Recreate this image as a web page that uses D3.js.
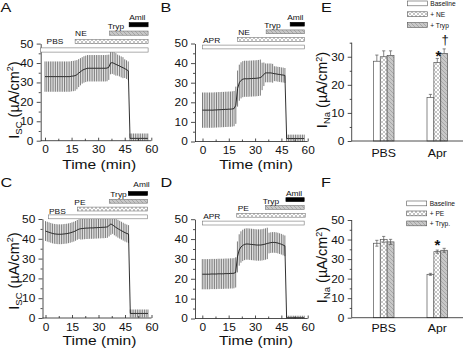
<!DOCTYPE html>
<html><head><meta charset="utf-8">
<script src="https://cdn.jsdelivr.net/npm/d3@7"></script>
<style>
body{margin:0;background:#fff}
svg{display:block}
text{font-family:"Liberation Sans",Arial,Helvetica,sans-serif;fill:#111}
</style>
</head><body>
<svg id="c" width="464" height="350"></svg>
<script>
// ---------------- DATA ----------------
const minutes = [0,1,2,3,4,5,6,7,8,9,10,11,12,13,14,15,16,17,18,19,20,21,22,23,24,25,26,27,28,29,30,31,32,33,34,35,36,37,38,39,40,41,42,43,44,45,46,47,48,49,50,51,52,53,54,55,56,57,58];

const aMean = [33,33,33,33,33,33,33,33,33,33,33,33,33,33,33,33.2,33.3,33.5,
  34,34.8,35.5,36.2,36.7,37,
  37.3,37.3,37.3,37.3,37.3,37.3,37.3,37.3,37.3,37.3,37.3,37.4,
  37.8,40,40.2,39.8,39.3,38.9,38.5,38,37.6,37.1,36.6,36,
  1.2,1.2,1.2,1.2,1.2,1.2,1.2,1.2,1.2,1.2,1.2];
const aSD = [7.8,7.8,7.8,7.8,7.8,7.8,7.8,7.8,7.8,7.8,7.8,7.8,7.8,7.8,7.8,7.8,7.8,7.8,
  7.5,7.2,7,6.8,6.8,6.8,
  6.8,6.8,6.8,6.8,6.8,6.8,6.8,6.8,6.8,6.8,6.8,6.8,
  6.5,5.8,5.8,5.8,5.8,5.4,5.4,5.4,5.4,4.8,4.8,4.8,
  2.5,2.5,2.5,2.5,2.5,2.5,2.5,2.5,2.5,2.5,2.5];

const bMean = [16,16,16,16,16,16,16,16.1,16.1,16.2,16.2,16.3,16.3,16.4,16.4,16.5,16.5,16.6,
  16.8,18.5,27,30,31.2,31.8,
  32,32,32,32.1,32.1,32.2,32.2,32.3,32.4,32.6,33.2,34.3,
  35,35,35,35,34.8,34.6,34.5,34.3,34.2,34,33.9,33.7,
  1.5,1.5,1.5,1.5,1.5,1.5,1.5,1.5,1.5,1.5,1.5];
const bSD = [9,9,9,9,9,9,9,9,9,9,9,9,9,9,9,9,9,9,
  9,9.5,9.2,9.2,9.2,9.2,
  9.2,9.2,9.2,9.2,9.2,9.2,9.2,9.2,9.2,9.2,7,6,
  4.8,4.8,4.8,4.8,4.8,3.8,3.8,3.8,3.8,3.8,3.8,3.8,
  2,2,2,2,2,2,2,2,2,2,2];

const cMean = [43.9,43.6,43.3,43,42.7,42.5,42.4,42.3,42.3,42.3,42.4,42.5,42.6,42.8,43,43.3,43.6,44,
  44.5,44.9,45.1,45.2,45.3,45.4,
  45.4,45.5,45.5,45.5,45.6,45.6,45.7,45.7,45.8,45.8,45.9,46,
  46.7,47.5,47,46.3,45.7,45.1,44.6,44.1,43.6,43.1,42.7,42.4,
  2.3,2.3,2.3,2.3,2.3,2.3,2.3,2.3,2.3,2.3,2.3];
const cSD = [5,5,5,5,5,5,5,5,5,5,5,5,5,5,5,5,5,5,
  5,5,5.5,5.5,5.5,5.5,
  5.5,5.5,5.5,5.5,5.5,5.5,5.5,5.5,5.5,5.5,5.5,5.5,
  5.5,5.5,4.5,4.5,4.5,4.5,4.5,4.5,4.5,4.5,4.5,4.5,
  2,2,2,2,2,2,2,2,2,2,2];

const dMean = [22.3,22.3,22.3,22.3,22.3,22.4,22.4,22.4,22.4,22.5,22.5,22.5,22.5,22.6,22.6,22.6,22.7,22.7,
  22.8,23.2,31,34.5,36,36.8,
  37.3,37.5,37.5,37.4,37.3,37.2,37.1,37,37,37,37.1,37.3,
  37.5,37.8,38,38.2,38.3,38.3,38.2,38,37.7,37.4,37,36.6,
  0.4,0.4,0.4,0.4,0.4,0.4,0.4,0.4,0.4,0.4,0.4];
const dSD = [7.6,7.6,7.6,7.6,7.6,7.6,7.6,7.6,7.6,7.6,7.6,7.6,7.6,7.6,7.6,7.6,7.6,7.6,
  7.6,7.6,7.8,7.9,7.9,7.9,
  7.9,7.9,7.9,7.9,7.9,7.9,7.9,7.9,7.9,7.9,7.9,7.9,
  7.9,7.9,5.2,5.2,5.2,5.2,5.2,5.2,5.2,5.2,5.2,5.2,
  1,1,1,1,1,1,1,1,1,1,1];

// treatment periods (minutes)
const aTreat = [{name:"PBS",start:-2.5,end:58.2},{name:"NE",start:17,end:58.2},{name:"Tryp",start:36.5,end:58.2},{name:"Amil",start:47.5,end:58.2}];
const bTreat = [{name:"APR",start:0,end:58.1},{name:"NE",start:20,end:58.1},{name:"Tryp",start:36.3,end:58.1},{name:"Amil",start:50,end:58.1}];
const cTreat = [{name:"PBS",start:1.6,end:57.8},{name:"PE",start:18,end:57.8},{name:"Tryp",start:36.1,end:57.8},{name:"Amil",start:46.9,end:57.8}];
const dTreat = [{name:"APR",start:0.2,end:58},{name:"PE",start:19.6,end:58.6},{name:"Tryp",start:35.9,end:58},{name:"Amil",start:47.6,end:58}];

const lineYTicks = [0,10,20,30,40,50];
const lineYMinor = [5,15,25,35,45];
const lineXTicks = [0,15,30,45,60];
const lineXMinor = [7.5,22.5,37.5,52.5];

const categories = ["PBS","Apr"];
const eBaseline = [28.4,15.5], eBaselineErr = [2.2,1.1];
const eNE = [30.0,27.9],       eNEErr = [2.1,1.5];
const eTryp = [30.5,31.2],     eTrypErr = [1.6,1.6];
const fBaseline = [38.1,22.2], fBaselineErr = [1.5,0.5];
const fPE = [40.1,33.8],       fPEErr = [1.5,0.8];
const fTryp = [38.8,34.5],     fTrypErr = [1.3,1.0];
const eYTicks = [0,10,20,30], eYMinor = [5,15,25,35];
const fYTicks = [0,10,20,30,40,50], fYMinor = [5,15,25,35,45];

// ---------------- DRAWING ----------------
const svg = d3.select("#c");
svg.append("rect").attr("width",464).attr("height",350).attr("fill","#fff");
const defs = svg.append("defs");
const xh = defs.append("pattern").attr("id","xh").attr("patternUnits","userSpaceOnUse").attr("width",4).attr("height",4);
xh.append("rect").attr("width",4).attr("height",4).attr("fill","#fff");
xh.append("path").attr("d","M0,0L4,4M4,0L0,4").attr("stroke","#a0a0a0").attr("stroke-width",0.6);
const dh = defs.append("pattern").attr("id","dh").attr("patternUnits","userSpaceOnUse").attr("width",4).attr("height",4);
dh.append("rect").attr("width",4).attr("height",4).attr("fill","#c8c8c8");
dh.append("path").attr("d","M-1,-1L5,5M-1,3L1,5M3,-1L5,1").attr("stroke","#8e8e8e").attr("stroke-width",0.6);

const kindFill = {open:"#fff", cross:"url(#xh)", hatch:"url(#dh)", solid:"#000"};
const treatKind = {PBS:"open", APR:"open", NE:"cross", PE:"cross", Tryp:"hatch", Amil:"solid"};

function txt(parent, x, y, s, size, opts={}) {
  const t = parent.append("text")
    .attr("transform", `translate(${x},${y}) scale(${opts.sx||1},1)`)
    .attr("font-size", size)
    .attr("text-anchor", opts.anchor||"start")
    .text(s);
  if (opts.bold) t.attr("font-weight","bold");
  return t;
}

function styleAxis(sel, size, sx) {
  sel.select(".domain").attr("stroke","#222").attr("stroke-width",0.8);
  sel.selectAll(".tick line").attr("stroke","#222").attr("stroke-width",0.8);
  sel.selectAll(".tick text").attr("font-size",size).attr("fill","#111")
     .attr("font-family",'"Liberation Sans",Arial,sans-serif')
     .attr("transform",`scale(${sx},1)`);
  sel.attr("font-size",null).attr("font-family",null);
}

function yLabel(parent, x, y, sub) {
  const t = parent.append("text").attr("transform",`translate(${x},${y}) rotate(-90)`)
    .attr("text-anchor","middle").attr("font-size",14.5);
  t.append("tspan").text("I");
  t.append("tspan").attr("font-size",9.5).attr("dy",3).text(sub);
  t.append("tspan").attr("dy",-3).text(" (\u00b5A/cm");
  t.append("tspan").attr("font-size",9).attr("dy",-5.5).text("2");
  t.append("tspan").attr("dy",5.5).text(")");
}

function drawLinePanel(p) {
  const g = svg.append("g");
  const x = d3.scaleLinear().domain([0,60]).range(p.xRange);
  const y = d3.scaleLinear().domain([0,50]).range(p.yRange);
  const cid = "clip" + p.id;
  defs.append("clipPath").attr("id",cid).append("rect")
    .attr("x",p.axisX).attr("y",y(50)).attr("width",x(60)-p.axisX+2).attr("height",y(0)-y(50));
  const plot = g.append("g").attr("clip-path",`url(#${cid})`);
  plot.selectAll("line").data(minutes).join("line")
    .attr("x1",d=>x(d)).attr("x2",d=>x(d))
    .attr("y1",(d,i)=>y(p.mean[i]-p.sd[i])).attr("y2",(d,i)=>y(p.mean[i]+p.sd[i]))
    .attr("stroke","#444").attr("stroke-width",0.7);
  plot.append("path")
    .attr("d", d3.line().x(d=>x(d)).y((d,i)=>y(p.mean[i]))(minutes))
    .attr("fill","none").attr("stroke","#1a1a1a").attr("stroke-width",0.9);

  // y axis
  const ya = g.append("g").attr("transform",`translate(${p.axisX},0)`)
    .call(d3.axisLeft(y).tickValues(lineYTicks).tickSize(4).tickSizeOuter(0).tickPadding(2.6));
  styleAxis(ya, 10.8, 1.1);
  const ym = g.append("g").attr("transform",`translate(${p.axisX},0)`)
    .call(d3.axisLeft(y).tickValues(lineYMinor).tickSize(2).tickFormat(""));
  ym.select(".domain").remove();
  ym.selectAll(".tick line").attr("stroke","#222").attr("stroke-width",0.8);
  // x axis
  const xa = g.append("g").attr("transform",`translate(0,${y(0)})`)
    .call(d3.axisBottom(x).tickValues(lineXTicks).tickSize(-3).tickSizeOuter(0).tickPadding(5));
  xa.select(".domain").remove();
  styleAxis(xa, 10.8, 1.1);
  const xm = g.append("g").attr("transform",`translate(0,${y(0)})`)
    .call(d3.axisBottom(x).tickValues(lineXMinor).tickSize(-2).tickFormat(""));
  xm.select(".domain").remove();
  xm.selectAll(".tick line").attr("stroke","#222").attr("stroke-width",0.8);
  g.append("line").attr("x1",p.axisX).attr("x2",x(60)).attr("y1",y(0)).attr("y2",y(0))
    .attr("stroke","#222").attr("stroke-width",0.8);

  // treatment bars
  const rows = d3.scaleBand().domain(p.treat.map(d=>d.name).reverse())
    .range(p.rowRange).paddingInner(0.5).paddingOuter(0);
  g.selectAll("rect.tr").data(p.treat).join("rect").attr("class","tr")
    .attr("x",d=>x(d.start)).attr("width",d=>x(d.end)-x(d.start))
    .attr("y",d=>rows(d.name)).attr("height",rows.bandwidth())
    .attr("fill",d=>kindFill[treatKind[d.name]])
    .attr("stroke",d=>treatKind[d.name]==="solid"?"#000":"#777").attr("stroke-width",0.6);
  p.treat.forEach((d,i)=>{
    txt(g, x(d.start)+p.labelDx[i], rows(d.name)-p.labelDy[i], d.name, 8, {sx:1.05});
  });

  txt(g, (p.xRange[0]+p.xRange[1])/2+1, y(0)+p.titleDy, "Time (min)", 13, {anchor:"middle", sx:1.2});
  txt(g, p.letterX, p.letterY, p.letter, 13.5, {sx:1.2});
  if (p.ylab) yLabel(g, p.ylab[0], p.ylab[1], "SC");
}

function drawBarPanel(p) {
  const g = svg.append("g");
  const y = d3.scaleLinear().domain([0,p.yMax]).range(p.yRange);
  const xg = d3.scalePoint().domain(categories).range(p.groupRange);
  const xs = d3.scaleBand().domain(p.series.map(s=>s.name)).range([-10.3,10.3]);
  p.series.forEach(s=>{
    const sg = g.append("g");
    sg.selectAll("rect").data(categories).join("rect")
      .attr("x",c=>xg(c)+xs(s.name)).attr("width",xs.bandwidth())
      .attr("y",(c,i)=>y(s.values[i])).attr("height",(c,i)=>y(0)-y(s.values[i]))
      .attr("fill",kindFill[s.kind]).attr("stroke","#555").attr("stroke-width",0.7);
    categories.forEach((c,i)=>{
      const cx = xg(c)+xs(s.name)+xs.bandwidth()/2;
      const top = y(s.values[i]+s.errs[i]);
      const bot = p.bothErr ? y(s.values[i]-s.errs[i]) : y(s.values[i]);
      sg.append("line").attr("x1",cx).attr("x2",cx).attr("y1",bot).attr("y2",top).attr("stroke","#555").attr("stroke-width",0.7);
      sg.append("line").attr("x1",cx-1.6).attr("x2",cx+1.6).attr("y1",top).attr("y2",top).attr("stroke","#555").attr("stroke-width",0.7);
      if (p.bothErr) sg.append("line").attr("x1",cx-1.6).attr("x2",cx+1.6).attr("y1",bot).attr("y2",bot).attr("stroke","#555").attr("stroke-width",0.7);
    });
  });
  const ya = g.append("g").attr("transform",`translate(${p.axisX},0)`)
    .call(d3.axisLeft(y).tickValues(p.yTicks).tickSize(4).tickSizeOuter(0).tickPadding(2.6));
  ya.select(".domain").attr("d",`M0,${y(0)}V${y(p.yMax)}`);
  styleAxis(ya, 10.8, 1.1);
  const ym = g.append("g").attr("transform",`translate(${p.axisX},0)`)
    .call(d3.axisLeft(y).tickValues(p.yMinor).tickSize(2).tickFormat(""));
  ym.select(".domain").remove();
  ym.selectAll(".tick line").attr("stroke","#222").attr("stroke-width",0.8);
  g.append("line").attr("x1",p.axisX).attr("x2",p.xEnd).attr("y1",y(0)).attr("y2",y(0))
    .attr("stroke","#222").attr("stroke-width",0.8);
  categories.forEach(c=> txt(g, xg(c), y(0)+p.catDy, c, 11.2, {anchor:"middle", sx:1.1}));

  // legend
  p.series.forEach((s,i)=>{
    const ly = p.legend[1] + i*p.legend[2];
    g.append("rect").attr("x",p.legend[0]).attr("y",ly).attr("width",20).attr("height",4.8)
      .attr("fill",kindFill[s.kind]).attr("stroke","#555").attr("stroke-width",0.6);
    txt(g, p.legend[0]+23, ly+5.2, s.name, 6.6, {sx:1.0});
  });
  p.notes.forEach(n=>{
    txt(g, xg(n.cat)+n.dx, y(n.value), n.text, n.size, {anchor:"middle", bold:n.bold});
  });
  txt(g, p.letterX, p.letterY, p.letter, 13.5, {sx:1.2});
  yLabel(g, p.ylab[0], p.ylab[1], "Na");
}

drawLinePanel({id:"A", letter:"A", letterX:0.5, letterY:12, mean:aMean, sd:aSD, treat:aTreat,
  axisX:40.7, xRange:[45,151.3], yRange:[140.7,43.6], rowRange:[22.6,52.1],
  labelDx:[6,0,-2,0], labelDy:[3.5,3,2.5,2.5], titleDy:28, ylab:[18.5,100]});
drawLinePanel({id:"B", letter:"B", letterX:160.5, letterY:12, mean:bMean, sd:bSD, treat:bTreat,
  axisX:195, xRange:[202.5,307.7], yRange:[141.5,43.5], rowRange:[22.3,48.9],
  labelDx:[0.5,0.7,-2,-3], labelDy:[2.5,2.2,2,2.5], titleDy:27.5, ylab:null});
drawLinePanel({id:"C", letter:"C", letterX:0.5, letterY:187, mean:cMean, sd:cSD, treat:cTreat,
  axisX:42.5, xRange:[45.5,151.5], yRange:[318,219], rowRange:[191.5,218.8],
  labelDx:[0.7,-3,1,5], labelDy:[1.2,2.3,2.3,4.3], titleDy:26.5, ylab:[18.5,271]});
drawLinePanel({id:"D", letter:"D", letterX:160.5, letterY:187, mean:dMean, sd:dSD, treat:dTreat,
  axisX:195, xRange:[202.3,307.7], yRange:[318.5,219.2], rowRange:[197.7,225],
  labelDx:[0.5,1,-2.6,0], labelDy:[2,2,2,2], titleDy:26, ylab:null});

drawBarPanel({letter:"E", letterX:321, letterY:12, yMax:35, yRange:[141,42.7], yTicks:eYTicks, yMinor:eYMinor,
  axisX:351.7, xEnd:463, groupRange:[383.7,437.3], catDy:15.7, bothErr:false,
  series:[{name:"Baseline",values:eBaseline,errs:eBaselineErr,kind:"open"},
          {name:"+ NE",values:eNE,errs:eNEErr,kind:"cross"},
          {name:"+ Tryp",values:eTryp,errs:eTrypErr,kind:"hatch"}],
  legend:[407.3,1,10.8],
  notes:[{text:"*",cat:"Apr",dx:1.2,value:28.5,size:15,bold:true},
         {text:"\u2020",cat:"Apr",dx:7.7,value:34.4,size:13,bold:false}],
  ylab:[327,90]});
drawBarPanel({letter:"F", letterX:321, letterY:187, yMax:50, yRange:[317.7,220], yTicks:fYTicks, yMinor:fYMinor,
  axisX:351.7, xEnd:463, groupRange:[383.7,437.3], catDy:14, bothErr:true,
  series:[{name:"Baseline",values:fBaseline,errs:fBaselineErr,kind:"open"},
          {name:"+ PE",values:fPE,errs:fPEErr,kind:"cross"},
          {name:"+ Tryp.",values:fTryp,errs:fTrypErr,kind:"hatch"}],
  legend:[406.7,201,10],
  notes:[{text:"*",cat:"Apr",dx:0.2,value:34.7,size:15,bold:true}],
  ylab:[327,265]});
</script>
</body></html>
